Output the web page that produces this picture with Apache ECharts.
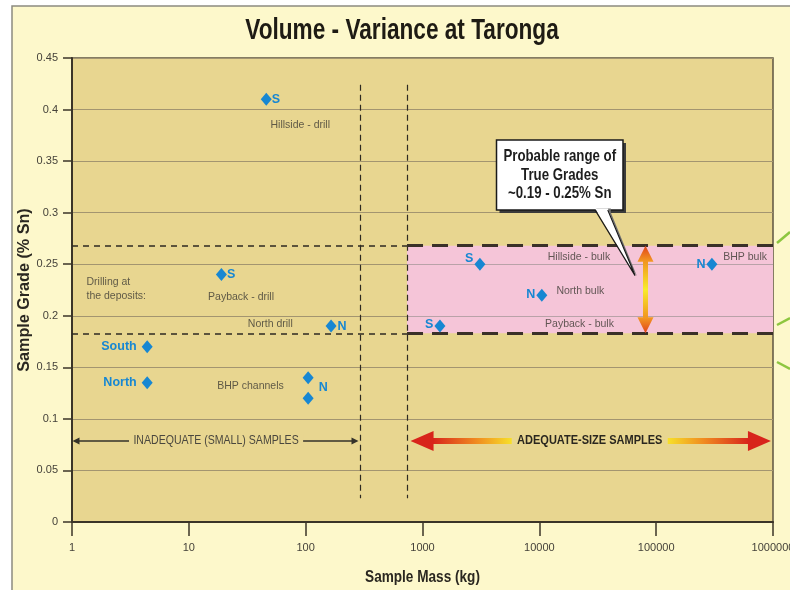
<!DOCTYPE html>
<html><head><meta charset="utf-8">
<script src="https://cdn.jsdelivr.net/npm/echarts@6/dist/echarts.min.js"></script>
<style>html,body{margin:0;padding:0;background:#ffffff}#c{width:790px;height:590px}</style>
</head><body><div id="c"></div>
<script>
// ---------------- DATA ----------------
const titleText = 'Volume - Variance at Taronga';
const xAxisTitle = 'Sample Mass (kg)';
const yAxisTitle = 'Sample Grade (% Sn)';
const xTickValues = [1, 10, 100, 1000, 10000, 100000, 1000000];
const yTickValues = [0, 0.05, 0.1, 0.15, 0.2, 0.25, 0.3, 0.35, 0.4, 0.45];

const pointNames = ['Hillside - drill', 'Payback - drill', 'North drill', 'South', 'North',
  'BHP channels', 'BHP channels', 'Hillside - bulk', 'North bulk', 'Payback - bulk', 'BHP bulk'];
const pointMass  = [46, 19, 165, 4.4, 4.4, 105, 105, 3100, 10500, 1410, 300000];
const pointGrade = [0.41, 0.24, 0.19, 0.17, 0.135, 0.14, 0.12, 0.25, 0.22, 0.19, 0.25];
const pointTags  = ['S', 'S', 'N', 'South', 'North', 'N', '', 'S', 'N', 'S', 'N'];

const noteTexts = ['Hillside - drill', 'Drilling at\nthe deposits:', 'Payback - drill', 'North drill',
  'BHP channels', 'Hillside - bulk', 'North bulk', 'Payback - bulk', 'BHP bulk'];

const trueGradeLow = 0.183, trueGradeHigh = 0.268;      // probable range band
const smallSampleLimit = 292, adequateSampleLimit = 737; // kg, dashed dividers
const calloutLines = ['Probable range of', 'True Grades', '~0.19 - 0.25% Sn'];
const bandLabels = ['INADEQUATE (SMALL) SAMPLES', 'ADEQUATE-SIZE SAMPLES'];

// ---------------- LAYOUT (positions / styles) ----------------
const SANS = '"Liberation Sans",Arial,sans-serif';
const BLUE = '#1787d2';
const PLOT_BG = '#e8d690';
const tagLayout = [
  {pos: 'right', off: [-3, 0]}, {pos: 'right', off: [-3, 0]}, {pos: 'right', off: [-2, 0]},
  {pos: 'left', off: [-2, 0]}, {pos: 'left', off: [-2, 0]},
  {pos: 'right', off: [2, 10]}, {pos: 'right', off: [0, 0]},
  {pos: 'left', off: [2, -6]}, {pos: 'left', off: [2, -1]}, {pos: 'left', off: [2, -2]}, {pos: 'left', off: [2, 0]}
];
const noteAnchors = [[50, 0.385], [1.33, 0.226], [14.6, 0.218], [32, 0.192], [17.5, 0.132],
  [11800, 0.257], [14000, 0.224], [11200, 0.192], [375000, 0.257]];

const chart = echarts.init(document.getElementById('c'));

const option = {
  backgroundColor: '#fdf8cb',
  animation: false,
  grid: {left: 72, right: 17, top: 58, bottom: 68, show: true, containLabel: false, outerBoundsMode: 'none',
    backgroundColor: PLOT_BG, borderColor: '#5e5442', borderWidth: 1.5},
  xAxis: {
    type: 'log', logBase: 10, min: 1, max: 1000000,
    axisLine: {lineStyle: {color: '#3b3428', width: 2}},
    axisTick: {length: 14, lineStyle: {color: '#3b3428', width: 1.5}},
    axisLabel: {fontFamily: SANS, fontSize: 11, color: '#45423a', margin: 20,
      formatter: v => String(xTickValues.find(t => Math.abs(Math.log10(t) - Math.log10(v)) < 1e-6) || Math.round(v))},
    splitLine: {show: false}, minorTick: {show: false}
  },
  yAxis: {
    type: 'value', min: 0, max: 0.45, interval: 0.05,
    axisLine: {show: true, lineStyle: {color: '#3b3428', width: 2}},
    axisTick: {show: true, length: 9, lineStyle: {color: '#3b3428', width: 1.5}},
    axisLabel: {fontFamily: SANS, fontSize: 11, color: '#45423a', margin: 14,
      formatter: v => String(yTickValues.find(t => Math.abs(t - v) < 1e-9) ?? v)},
    splitLine: {lineStyle: {color: '#a39570', width: 1.2}}
  },
  series: [
    { // probable range band
      type: 'scatter', data: [], z: 1, silent: true,
      markArea: {silent: true, itemStyle: {color: '#f5c5d8'},
        data: [[{coord: [adequateSampleLimit, trueGradeHigh]}, {coord: [1000000, trueGradeLow]}]]}
    },
    { // grid lines through band, dividers, range lines
      type: 'scatter', data: [], z: 2, silent: true,
      markLine: {silent: true, symbol: ['none', 'none'], label: {show: false},
        data: [
          [{coord: [adequateSampleLimit, 0.25], lineStyle: {color: '#b9a2a8', width: 1.2, type: 'solid'}}, {coord: [1000000, 0.25]}],
          [{coord: [adequateSampleLimit, 0.2], lineStyle: {color: '#b9a2a8', width: 1.2, type: 'solid'}}, {coord: [1000000, 0.2]}],
          [{coord: [smallSampleLimit, 0.424], lineStyle: {color: '#2e2a22', width: 1.2, type: [6, 4]}}, {coord: [smallSampleLimit, 0.023]}],
          [{coord: [adequateSampleLimit, 0.424], lineStyle: {color: '#2e2a22', width: 1.2, type: [6, 4]}}, {coord: [adequateSampleLimit, 0.023]}],
          [{coord: [1, trueGradeHigh], lineStyle: {color: '#2e2a22', width: 1.6, type: [6, 5]}}, {coord: [adequateSampleLimit, trueGradeHigh]}],
          [{coord: [1, trueGradeLow], lineStyle: {color: '#2e2a22', width: 1.6, type: [6, 5]}}, {coord: [adequateSampleLimit, trueGradeLow]}],
          [{coord: [adequateSampleLimit, trueGradeHigh], lineStyle: {color: '#3a3128', width: 3.2, type: [16, 9]}}, {coord: [1000000, trueGradeHigh]}],
          [{coord: [adequateSampleLimit, trueGradeLow], lineStyle: {color: '#3a3128', width: 3.2, type: [16, 9]}}, {coord: [1000000, trueGradeLow]}]
        ]}
    },
    { // text notes
      type: 'scatter', z: 4, silent: true, symbolSize: 0,
      data: noteTexts.map((t, i) => ({value: noteAnchors[i], name: t})),
      label: {show: true, position: 'right', distance: 0, formatter: p => p.name,
        fontFamily: SANS, fontSize: 10.5, color: '#3c3a33', lineHeight: 14, align: 'left'}
    },
    { // sample points
      type: 'scatter', z: 5, symbol: 'diamond', symbolSize: [11, 13],
      itemStyle: {color: BLUE, opacity: 1},
      data: pointMass.map((m, i) => ({
        value: [m, pointGrade[i]], name: pointNames[i],
        label: {show: !!pointTags[i], formatter: pointTags[i], position: tagLayout[i].pos,
          offset: tagLayout[i].off, distance: 3,
          fontFamily: SANS, fontWeight: 'bold', fontSize: 12.5, color: BLUE}
      }))
    }
  ]
};
chart.setOption(option);

// ---------- annotations positioned through the axes ----------
const P = (m, g) => chart.convertToPixel({gridIndex: 0}, [m, g]);
const g = [];
// outer frame
g.push({type: 'rect', shape: {x: 0, y: 0, width: 12, height: 590}, style: {fill: '#ffffff'}, silent: true});
g.push({type: 'rect', shape: {x: 0, y: 0, width: 790, height: 6}, style: {fill: '#ffffff'}, silent: true});
g.push({type: 'polyline', shape: {points: [[12, 590], [12, 6], [790, 6]]}, style: {stroke: '#8c8a80', lineWidth: 1.5, fill: null}, silent: true});
// green decorative strokes at right edge
[[[777, 243], [790, 232]], [[777, 325], [790, 318]], [[777, 362], [790, 369]]].forEach(pts =>
  g.push({type: 'polyline', shape: {points: pts}, style: {stroke: '#8dc63f', lineWidth: 2.5, fill: null}, silent: true}));

// titles
{
  const tl = P(1, 0.45), br = P(1000000, 0);
  g.push({type: 'text', x: 402, y: 31, scaleX: 0.78, style: {text: titleText, fontFamily: SANS, fontWeight: 'bold',
    fontSize: 29, fill: '#1e1b14', align: 'center', verticalAlign: 'middle'}});
  g.push({type: 'text', x: (tl[0] + br[0]) / 2, y: 577, scaleX: 0.8, style: {text: xAxisTitle, fontFamily: SANS, fontWeight: 'bold',
    fontSize: 17, fill: '#2a2720', align: 'center', verticalAlign: 'middle'}});
  g.push({type: 'text', x: 24, y: (tl[1] + br[1]) / 2, rotation: Math.PI / 2, scaleX: 0.95, style: {text: yAxisTitle, fontFamily: SANS,
    fontWeight: 'bold', fontSize: 17, fill: '#2a2720', align: 'center', verticalAlign: 'middle'}});
}

// inadequate samples arrow
{
  const a = P(1.01, 0.0786), b = P(smallSampleLimit * 0.97, 0.0786), c = P(17.1, 0.0786);
  const col = '#35322a';
  g.push({type: 'line', shape: {x1: a[0] + 4, y1: a[1], x2: b[0] - 4, y2: b[1]}, style: {stroke: col, lineWidth: 1.5}, z: 10});
  g.push({type: 'polygon', shape: {points: [[a[0], a[1]], [a[0] + 7, a[1] - 3.5], [a[0] + 7, a[1] + 3.5]]}, style: {fill: col}, z: 10});
  g.push({type: 'polygon', shape: {points: [[b[0], b[1]], [b[0] - 7, b[1] - 3.5], [b[0] - 7, b[1] + 3.5]]}, style: {fill: col}, z: 10});
  g.push({type: 'text', x: c[0], y: c[1], z: 11, scaleX: 0.88, style: {text: bandLabels[0], fontFamily: SANS, fontSize: 12,
    fill: '#4a473e', align: 'center', verticalAlign: 'middle', backgroundColor: PLOT_BG, padding: [1, 5]}});
}
// adequate samples arrow
{
  const a = P(790, 0.0786), b = P(960000, 0.0786), c = P(27000, 0.0786);
  const y = a[1], red = '#d8241b';
  const tw = 152;
  const lx1 = a[0] + 22, lx2 = c[0] - tw / 2 - 2, rx1 = c[0] + tw / 2 + 2, rx2 = b[0] - 22;
  g.push({type: 'rect', z: 10, shape: {x: lx1, y: y - 3, width: lx2 - lx1, height: 6},
    style: {fill: new echarts.graphic.LinearGradient(0, 0, 1, 0, [{offset: 0, color: red}, {offset: 0.55, color: '#f08a20'}, {offset: 1, color: '#f7e02a'}])}});
  g.push({type: 'rect', z: 10, shape: {x: rx1, y: y - 3, width: rx2 - rx1, height: 6},
    style: {fill: new echarts.graphic.LinearGradient(0, 0, 1, 0, [{offset: 0, color: '#f7e02a'}, {offset: 0.45, color: '#f08a20'}, {offset: 1, color: red}])}});
  g.push({type: 'polygon', z: 10, shape: {points: [[a[0], y], [a[0] + 23, y - 10], [a[0] + 23, y + 10]]}, style: {fill: red}});
  g.push({type: 'polygon', z: 10, shape: {points: [[b[0], y], [b[0] - 23, y - 10], [b[0] - 23, y + 10]]}, style: {fill: red}});
  g.push({type: 'text', x: c[0], y: c[1], z: 11, scaleX: 0.88, style: {text: bandLabels[1], fontFamily: SANS, fontWeight: 'bold', fontSize: 12.5,
    fill: '#2a271f', align: 'center', verticalAlign: 'middle'}});
}
// vertical double arrow for the range
{
  const t = P(81000, trueGradeHigh), bt = P(81000, trueGradeLow);
  const x = t[0];
  g.push({type: 'rect', z: 12, shape: {x: x - 2.5, y: t[1] + 14, width: 5, height: bt[1] - t[1] - 28},
    style: {fill: new echarts.graphic.LinearGradient(0, 0, 0, 1, [{offset: 0, color: '#f0901e'}, {offset: 0.5, color: '#f8ec2c'}, {offset: 1, color: '#f0901e'}])}});
  g.push({type: 'polygon', z: 12, shape: {points: [[x, t[1]], [x - 8, t[1] + 16], [x + 8, t[1] + 16]]},
    style: {fill: new echarts.graphic.LinearGradient(0, 0, 0, 1, [{offset: 0, color: '#e0421a'}, {offset: 1, color: '#f39a22'}])}});
  g.push({type: 'polygon', z: 12, shape: {points: [[x, bt[1]], [x - 8, bt[1] - 16], [x + 8, bt[1] - 16]]},
    style: {fill: new echarts.graphic.LinearGradient(0, 0, 0, 1, [{offset: 0, color: '#f39a22'}, {offset: 1, color: '#e0421a'}])}});
}
// callout box
{
  const tl = P(4300, 0.3705), br = P(52000, 0.3025), tip = P(66000, 0.239);
  const x0 = tl[0], y0 = tl[1], x1 = br[0], y1 = br[1];
  const b1 = x0 + (x1 - x0) * 0.78, b2 = x0 + (x1 - x0) * 0.88;
  g.push({type: 'rect', z: 13, shape: {x: x0 + 3, y: y0 + 3, width: x1 - x0, height: y1 - y0}, style: {fill: '#3a3a3a'}});
  g.push({type: 'rect', z: 14, shape: {x: x0, y: y0, width: x1 - x0, height: y1 - y0}, style: {fill: '#ffffff', stroke: '#1a1a1a', lineWidth: 1.5}});
  g.push({type: 'polygon', z: 15, shape: {points: [[b1 + 1, y1 - 1.5], [tip[0] + 2, tip[1] + 1], [b2 + 3, y1 + 2.5], [b2 + 3, y1 - 1.5]]}, style: {fill: '#707070'}});
  g.push({type: 'polygon', z: 16, shape: {points: [[b1, y1 - 1.5], [tip[0], tip[1]], [b2, y1 - 1.5]]}, style: {fill: '#ffffff'}});
  g.push({type: 'polyline', z: 17, shape: {points: [[b1, y1], [tip[0], tip[1]], [b2, y1]]}, style: {stroke: '#1a1a1a', lineWidth: 1.2, fill: null}});
  g.push({type: 'text', z: 18, x: (x0 + x1) / 2, y: (y0 + y1) / 2, scaleX: 0.78, style: {text: calloutLines.join('\n'), fontFamily: SANS,
    fontWeight: 'bold', fontSize: 17, lineHeight: 18.5, fill: '#1e1e1e', align: 'center', verticalAlign: 'middle'}});
}
chart.setOption({graphic: g});
</script>
</body></html>
